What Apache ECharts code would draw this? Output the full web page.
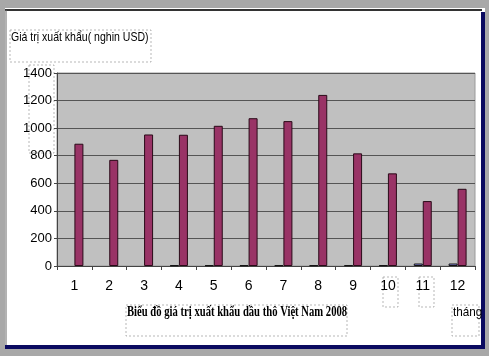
<!DOCTYPE html>
<html><head><meta charset="utf-8">
<script src="https://cdn.jsdelivr.net/npm/echarts@6/dist/echarts.min.js"></script>
<style>html,body{margin:0;padding:0;background:#fff}#c{width:489px;height:356px}</style>
</head><body><div id="c"></div>
<script>
const months = ['1','2','3','4','5','6','7','8','9','10','11','12'];
const smallSeries = [0,0,0,5,5,5,5,5,5,5,18,18];
const exportValues = [887,770,954,952,1017,1072,1051,1241,817,672,471,560];
const yTicks = [0,200,400,600,800,1000,1200,1400];
const titleText = 'Giá trị xuất khẩu( nghin USD)';
const captionText = 'Biểu đồ giá trị xuất khẩu dầu thô Việt Nam 2008';
const unitText = 'tháng';

const chart = echarts.init(document.getElementById('c'), null, {renderer:'canvas'});
const fontY = 'Liberation Sans, Arial';
const dashBox = (x,y,w,h) => ({type:'rect', shape:{x,y,width:w,height:h}, style:{fill:null, stroke:'#888', lineWidth:0.6, lineDash:[2,2]}, silent:true});
chart.setOption({
  animation:false,
  backgroundColor:'#fff',
  grid:{left:57, right:14, top:73, bottom:90, show:true, backgroundColor:'#c0c0c0', borderColor:'#9a9a9a', borderWidth:1},
  xAxis:{type:'category', data:months,
    axisLine:{lineStyle:{color:'#444', width:1}},
    axisTick:{show:true, length:4, lineStyle:{color:'#444'}},
    axisLabel:{margin:13, color:'#000', fontSize:14, fontFamily:fontY}},
  yAxis:{type:'value', min:0, max:1400, interval:200,
    axisLine:{show:true, lineStyle:{color:'#444'}},
    axisTick:{show:true, length:3, lineStyle:{color:'#444'}},
    splitLine:{lineStyle:{color:'#555', width:1}},
    axisLabel:{margin:5, color:'#000', fontSize:13, fontFamily:fontY, formatter:v=>yTicks.includes(v)?String(v):''}},
  series:[
    {type:'bar', data:smallSeries.map(v=>({value:v, itemStyle:{borderWidth:v>0?1:0}})), barWidth:9, barGap:'0%', itemStyle:{color:'#9999ff', borderColor:'#111'}},
    {type:'bar', data:exportValues, barWidth:9, itemStyle:{color:'#993366', borderColor:'#2a0a18', borderWidth:1}}
  ],
  graphic:[
    {type:'rect', shape:{x:0,y:0,width:489,height:8}, style:{fill:'#a8a8a8'}, silent:true},
    {type:'rect', shape:{x:0,y:0,width:5,height:356}, style:{fill:'#a8a8a8'}, silent:true},
    {type:'rect', shape:{x:485,y:0,width:4,height:356}, style:{fill:'#a8a8a8'}, silent:true},
    {type:'rect', shape:{x:0,y:349,width:489,height:7}, style:{fill:'#a8a8a8'}, silent:true},
    {type:'line', shape:{x1:5,y1:10,x2:482,y2:10}, style:{stroke:'#333', lineWidth:2}, silent:true},
    {type:'line', shape:{x1:6,y1:10,x2:6,y2:347}, style:{stroke:'#666', lineWidth:1}, silent:true},
    {type:'rect', shape:{x:481,y:12,width:4,height:337}, style:{fill:'#0a0a60'}, silent:true},
    {type:'rect', shape:{x:5,y:345,width:480,height:4}, style:{fill:'#0a0a60'}, silent:true},
    dashBox(10,30,141,32),
    dashBox(29,65,25,88),
    dashBox(126,305,221,31),
    dashBox(452,305,27,31),
    dashBox(383,277,15,30),
    dashBox(419,277,15,30),
    {type:'text', x:11, y:31, scaleX:0.81, style:{text:titleText, fill:'#000', font:'13px Liberation Sans, Arial'}, silent:true},
    {type:'text', x:127, y:305, scaleX:0.76, style:{text:captionText, fill:'#000', font:'bold 14px Liberation Serif, Times New Roman'}, silent:true},
    {type:'text', x:453, y:306, scaleX:0.9, style:{text:unitText, fill:'#000', font:'13px Liberation Sans, Arial'}, silent:true}
  ]
});
</script></body></html>
